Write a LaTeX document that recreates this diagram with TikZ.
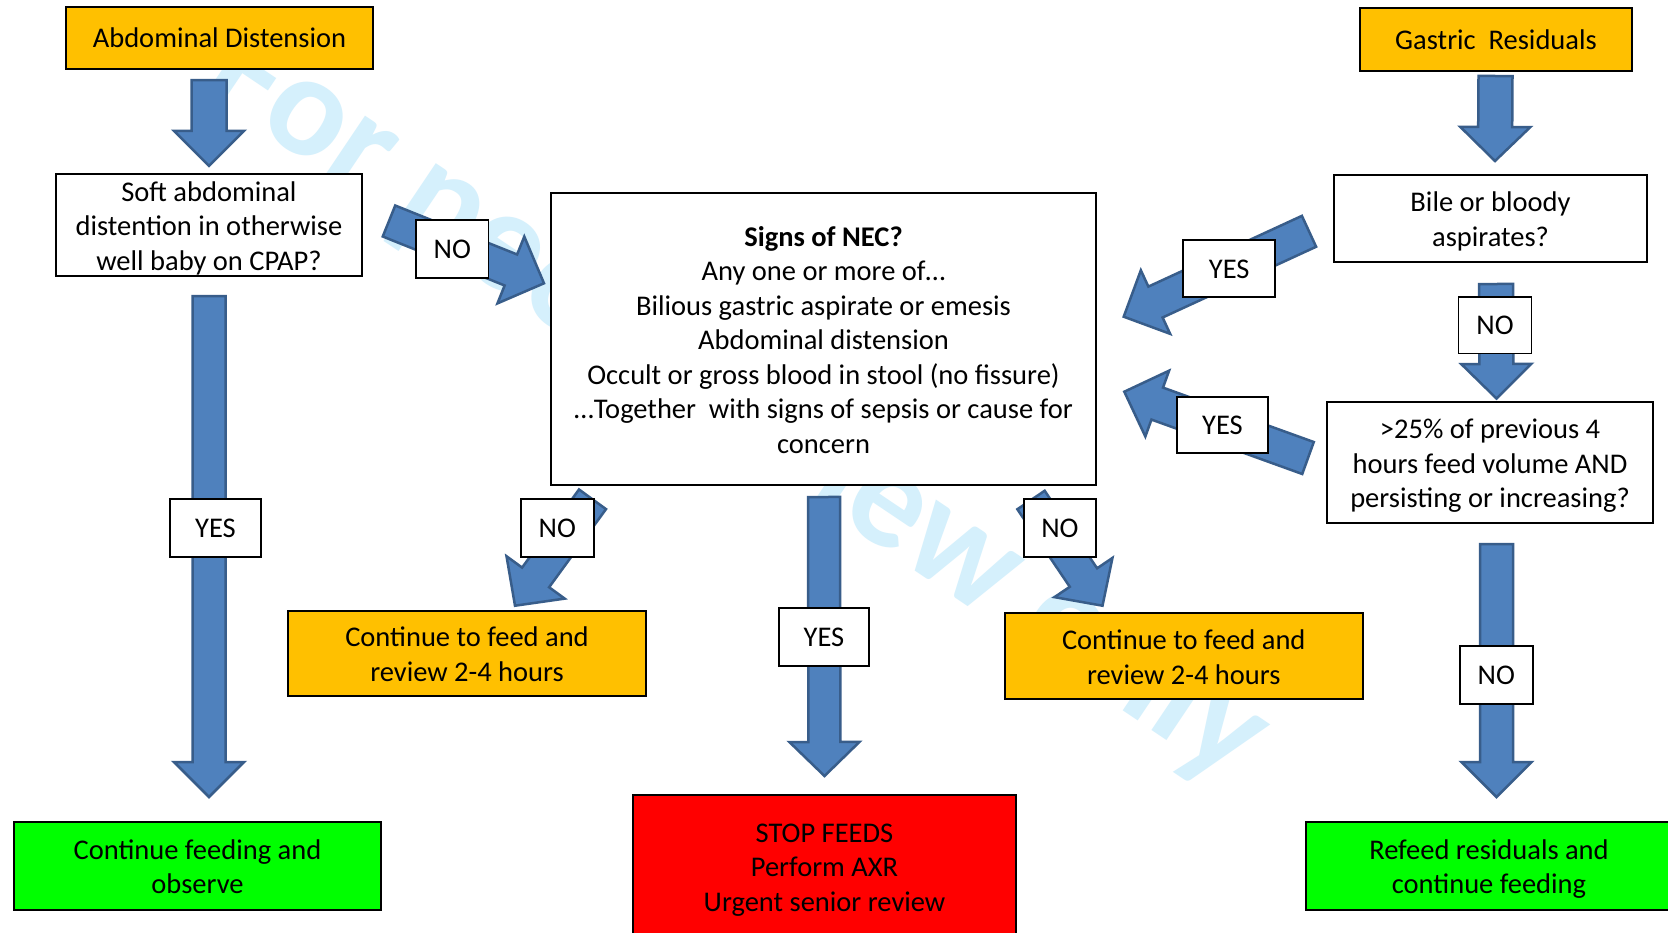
\documentclass[tikz,border=0pt]{standalone}
\usepackage{fontspec}
\setmainfont{Carlito}
\usetikzlibrary{calc}
\definecolor{orng}{HTML}{FFC000}
\definecolor{grn}{HTML}{00FF00}
\definecolor{rd}{HTML}{FF0000}
\definecolor{afill}{HTML}{4F81BD}
\definecolor{aline}{HTML}{385D8A}
\definecolor{wm}{HTML}{D5F0FC}
\newcommand{\linestrut}{\rule[-6pt]{0pt}{31.4pt}}
\newcommand{\fs}{\rule[-6pt]{0pt}{33.2pt}}
% block arrow: #1 tail, #2 tip, #3 half shaft width, #4 half head width, #5 head length
\newcommand{\blockarr}[5]{%
  \coordinate (hb) at ($(#2)!#5!(#1)$);
  \draw[blockarrow] ($(#1)!#3!90:(#2)$) -- ($(hb)!#3!90:(#2)$) -- ($(hb)!#4!90:(#2)$) -- (#2)
     -- ($(hb)!#4!-90:(#2)$) -- ($(hb)!#3!-90:(#2)$) -- ($(#1)!#3!-90:(#2)$) -- cycle;
}
\begin{document}
\begin{tikzpicture}[x=1pt,y=-1pt,
  box/.style={draw=black, line width=2pt, fill=white, inner sep=0pt, align=center,
    font=\fontsize{28.5}{34.5}\selectfont,
    execute at begin node=\linestrut, execute at end node=\linestrut},
  obox/.style={box, fill=orng},
  gbox/.style={box, fill=grn},
  rbox/.style={box, fill=rd},
  lbl/.style={box, line width=1.8pt},
  blockarrow/.style={draw=aline, fill=afill, line width=2.5pt, line join=miter}]
\useasboundingbox (0,0) rectangle (1668,932);
\clip (0,0) rectangle (1668,932);
\fill[white] (0,0) rectangle (1668,932);
% watermark
\node[rotate=-33.9, text=wm, font=\fontsize{146}{146}\selectfont\bfseries] (wmk) at (738,404) {For peer review only};
% main boxes
\node[obox, minimum width=307pt, minimum height=62pt] (abd) at (219.5,38) {Abdominal Distension};
\node[obox, minimum width=272pt, minimum height=63pt] (gas) at (1496,39.5) {Gastric~~Residuals};
\node[box, minimum width=306pt, minimum height=102pt] (soft) at (209,225) {\fs Soft abdominal\\distention in otherwise\\well baby on CPAP?};
\node[box, minimum width=313pt, minimum height=87pt] (bile) at (1490.5,218.5) {\fs Bile or bloody\\aspirates?};
\node[box, minimum width=326pt, minimum height=121pt] (pct) at (1490,462.5) {\fs >25\% of previous 4\\hours feed volume AND\\persisting or increasing?};
\node[box, minimum width=545pt, minimum height=292pt] (nec) at (823.5,339) {\fs\textbf{Signs of NEC?}\\Any one or more of…\\Bilious gastric aspirate or emesis\\Abdominal distension\\Occult or gross blood in stool (no fissure)\\…Together~~with signs of sepsis or cause for\\concern};
\node[obox, minimum width=358pt, minimum height=85.5pt] (cont1) at (467,653.25) {\fs Continue to feed and\\review 2-4 hours};
\node[obox, minimum width=358.5pt, minimum height=86pt] (cont2) at (1183.75,656.3) {\fs Continue to feed and\\review 2-4 hours};
\node[gbox, minimum width=367pt, minimum height=88pt] (obs) at (197.5,866) {\fs Continue feeding and\\observe};
\node[gbox, minimum width=366pt, minimum height=88pt] (refeed) at (1489,866) {\fs Refeed residuals and\\continue feeding};
\node[rbox, minimum width=383pt, minimum height=142pt] (stop) at (824.5,866) {\fs STOP FEEDS\\Perform AXR\\Urgent senior review};
% arrow end points
\coordinate (a1s) at ($(abd.south)+(-10.5,10)$);   \coordinate (a1e) at ($(soft.north)+(0,-7)$);
\coordinate (a2s) at ($(gas.south)+(-0.5,4)$);     \coordinate (a2e) at ($(bile.north)+(4.5,-13)$);
\coordinate (a3s) at ($(soft.south)+(0,19)$);      \coordinate (a3e) at ($(obs.north)+(11.5,-24)$);
\coordinate (a4s) at ($(bile.south)+(5.5,21)$);    \coordinate (a4e) at ($(pct.north)+(6.5,-2.5)$);
\coordinate (a5s) at ($(pct.south)+(6.5,20)$);     \coordinate (a5e) at ($(refeed.north)+(7.5,-24)$);
\coordinate (a6s) at ($(nec.south)+(0.5,11)$);     \coordinate (a6e) at ($(stop.north)+(0,-18)$);
\coordinate (a7s) at ($(soft.east)+(26,-4)$);      \coordinate (a7e) at ($(nec.west)+(-6,-55.7)$);
\coordinate (a8s) at ($(nec.south)+(-231,13.3)$);  \coordinate (a8e) at ($(cont1.north)+(48,-3.8)$);
\coordinate (a9s) at ($(nec.south)+(207.5,14)$);   \coordinate (a9e) at ($(cont2.north)+(-81.25,-6.6)$);
\coordinate (a10s) at ($(bile.west)+(-24,12.8)$);  \coordinate (a10e) at ($(nec.east)+(26.7,-22.3)$);
\coordinate (a11s) at ($(pct.west)+(-18,-4.5)$);   \coordinate (a11e) at ($(nec.east)+(27.3,52.7)$);
% block arrows
\blockarr{a1s}{a1e}{17.5pt}{35pt}{35pt}
\blockarr{a2s}{a2e}{17pt}{35pt}{34pt}
\blockarr{a3s}{a3e}{16.5pt}{35pt}{35pt}
\blockarr{a4s}{a4e}{17pt}{35pt}{34.5pt}
\blockarr{a5s}{a5e}{16.5pt}{35pt}{35pt}
\blockarr{a6s}{a6e}{16pt}{35pt}{34pt}
\blockarr{a7s}{a7e}{16.7pt}{36pt}{35.7pt}
\blockarr{a8s}{a8e}{16.7pt}{36pt}{35pt}
\blockarr{a9s}{a9e}{16.5pt}{35pt}{34pt}
\blockarr{a10s}{a10e}{17pt}{35pt}{35pt}
\blockarr{a11s}{a11e}{17pt}{35pt}{35pt}
% labels
\node[lbl, minimum width=72.5pt, minimum height=58.3pt] (noA) at (452.25,249.15) {NO};
\node[lbl, minimum width=91pt, minimum height=58pt] (yesA) at (215.5,528) {YES};
\node[lbl, minimum width=73.3pt, minimum height=57.7pt] (noB) at (557.35,527.85) {NO};
\node[lbl, minimum width=90.5pt, minimum height=58pt] (yesB) at (824,636.7) {YES};
\node[lbl, minimum width=72.6pt, minimum height=57.4pt] (noC) at (1059.9,528) {NO};
\node[lbl, minimum width=72.6pt, minimum height=58pt] (noD) at (1496.3,675) {NO};
\node[lbl, minimum width=91.7pt, minimum height=57.3pt] (yesC) at (1229.2,268.7) {YES};
\node[lbl, minimum width=73pt, minimum height=56.5pt] (noE) at (1495,325.2) {NO};
\node[lbl, minimum width=91.6pt, minimum height=56.6pt] (yesD) at (1222.5,425) {YES};
\end{tikzpicture}
\end{document}
